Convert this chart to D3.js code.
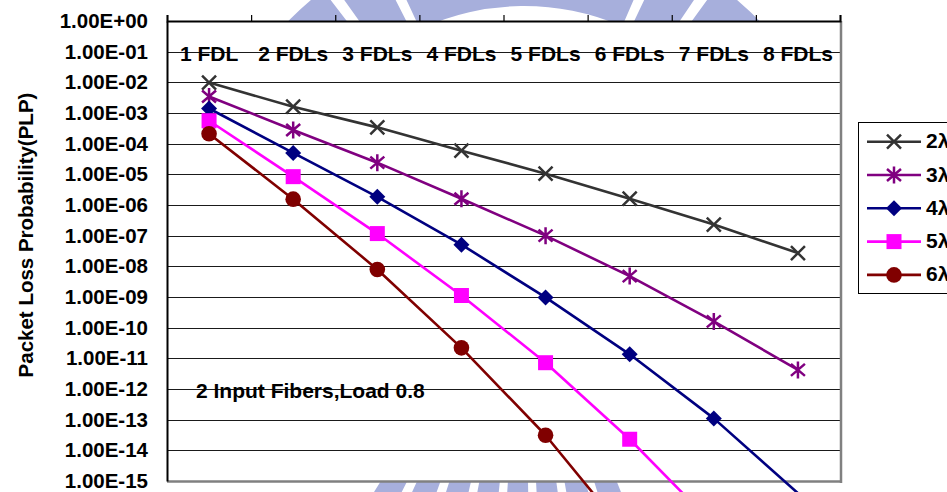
<!DOCTYPE html>
<html>
<head>
<meta charset="utf-8">
<script src="https://cdn.jsdelivr.net/npm/d3@7"></script>
<style>
  html, body { margin: 0; padding: 0; background: #fff; }
  svg { display: block; }
  text { font-family: "Liberation Sans", Arial, sans-serif; font-weight: bold; fill: #000; }
</style>
</head>
<body>
<svg id="chart" width="947" height="492"></svg>
<script>
// ---- data ----
const categories = ["1 FDL", "2 FDLs", "3 FDLs", "4 FDLs", "5 FDLs", "6 FDLs", "7 FDLs", "8 FDLs"];
const seriesNames = ["2\u03bb", "3\u03bb", "4\u03bb", "5\u03bb", "6\u03bb"];
const plp2 = [9.8e-3, 1.6e-3, 3.4e-4, 5.9e-5, 1.05e-5, 1.6e-6, 2.3e-7, 2.7e-8];
const plp3 = [3.45e-3, 2.8e-4, 2.4e-5, 1.6e-6, 1.0e-7, 4.8e-9, 1.6e-10, 4.2e-12];
const plp4 = [1.4e-3, 5.0e-5, 1.85e-6, 5.1e-8, 9.7e-10, 1.35e-11, 1.1e-13, 4.0e-16];
const plp5 = [5.6e-4, 8.4e-6, 1.17e-7, 1.12e-9, 7.2e-12, 2.3e-14, 3.7e-17, null];
const plp6 = [2.1e-4, 1.55e-6, 7.9e-9, 2.2e-11, 3.1e-14, 1.4e-17, null, null];
const yTickValues = [1e0, 1e-1, 1e-2, 1e-3, 1e-4, 1e-5, 1e-6, 1e-7, 1e-8, 1e-9, 1e-10, 1e-11, 1e-12, 1e-13, 1e-14, 1e-15];
const annotation = "2 Input Fibers,Load 0.8";
const yTitle = "Packet Loss Probability(PLP)";

const seriesValues = [plp2, plp3, plp4, plp5, plp6];
const colors = ["#333333", "#800080", "#000080", "#ff00ff", "#800000"];
const markerTypes = ["x", "asterisk", "diamond", "square", "circle"];

// ---- layout ----
const plot = { left: 167, right: 840, top: 21, bottom: 481 };
const svg = d3.select("#chart");

const x = d3.scaleBand().domain(categories).range([plot.left, plot.right]).paddingInner(0).paddingOuter(0);
const xc = c => x(c) + x.bandwidth() / 2;
const y = d3.scaleLog().domain([1, 1e-15]).range([plot.top, plot.bottom]);

// ---- watermark (light logo behind chart) ----
const wm = svg.append("g").attr("transform", "translate(524,252)").attr("fill", "#a7afdc");
const arcGen = d3.arc();
const deg = Math.PI / 180;
const topPieces = [[-50, -37.5], [-35.5, -27], [-25, 23.5], [25.5, 34], [36, 50]];
topPieces.forEach(p => wm.append("path").attr("d", arcGen({ innerRadius: 246, outerRadius: 330, startAngle: p[0] * deg, endAngle: p[1] * deg })));
d3.range(158, 208, 7).forEach(a => wm.append("path").attr("d", arcGen({ innerRadius: 226, outerRadius: 300, startAngle: a * deg, endAngle: (a + 5) * deg })));

// ---- plot area background ----
svg.append("rect").attr("x", plot.left).attr("y", plot.top)
  .attr("width", plot.right - plot.left).attr("height", plot.bottom - plot.top).attr("fill", "#fff");

// gridlines
svg.append("g").selectAll("line").data(yTickValues.slice(1, -1)).join("line")
  .attr("x1", plot.left).attr("x2", plot.right)
  .attr("y1", d => Math.round(y(d)) + 0.5).attr("y2", d => Math.round(y(d)) + 0.5)
  .attr("stroke", "#1a1a1a").attr("stroke-width", 1);

// plot border: gray right/bottom
svg.append("line").attr("x1", plot.right + 1).attr("x2", plot.right + 1).attr("y1", plot.top).attr("y2", plot.bottom + 2)
  .attr("stroke", "#808080").attr("stroke-width", 2.5);
svg.append("line").attr("x1", plot.left).attr("x2", plot.right + 2).attr("y1", plot.bottom + 0.5).attr("y2", plot.bottom + 0.5)
  .attr("stroke", "#808080").attr("stroke-width", 2.5);

// left axis with labels
const fmt = v => { const e = Math.round(Math.log10(v)); return "1.00E" + (e < 0 ? "-" : "+") + String(Math.abs(e)).padStart(2, "0"); };
const yAxis = svg.append("g").attr("transform", `translate(${plot.left},0)`)
  .call(d3.axisLeft(y).tickValues(yTickValues).tickFormat(fmt).tickSize(0).tickPadding(19));
yAxis.select(".domain").attr("stroke", "#000").attr("stroke-width", 2);
yAxis.selectAll("text").style("font-size", "20.5px").style("font-family", "'Liberation Sans', Arial, sans-serif").style("font-weight", "bold").attr("fill", "#000");

// top axis with tick marks at category boundaries
const xb = d3.scaleLinear().domain([0, categories.length]).range([plot.left, plot.right]);
const xAxis = svg.append("g").attr("transform", `translate(0,${plot.top})`)
  .call(d3.axisTop(xb).ticks(categories.length).tickValues(d3.range(0, categories.length + 1)).tickFormat("").tickSize(6).tickSizeOuter(6));
xAxis.select(".domain").attr("stroke", "#000").attr("stroke-width", 2);
xAxis.selectAll(".tick line").attr("stroke", "#000").attr("stroke-width", 1.2);

// category labels
svg.append("g").selectAll("text").data(categories).join("text")
  .attr("x", d => xc(d)).attr("y", 61).attr("text-anchor", "middle")
  .style("font-size", "21px").text(d => d);

// annotation
svg.append("text").attr("x", 196).attr("y", 398).style("font-size", "21px").text(annotation);

// y title
svg.append("text").attr("transform", "translate(33,235) rotate(-90)").attr("text-anchor", "middle")
  .style("font-size", "20.5px").text(yTitle);

// ---- markers ----
function marker(g, type, color) {
  if (type === "x") {
    g.append("path").attr("d", "M-7,-7L7,7M-7,7L7,-7").attr("stroke", color).attr("stroke-width", 2.5).attr("fill", "none");
  } else if (type === "asterisk") {
    g.append("path").attr("d", "M-7,-6L7,6M-7,6L7,-6M0,-8.5L0,8.5").attr("stroke", color).attr("stroke-width", 2.5).attr("fill", "none");
  } else if (type === "diamond") {
    g.append("path").attr("d", "M0,-8L8,0L0,8L-8,0Z").attr("fill", color);
  } else if (type === "square") {
    g.append("path").attr("d", "M-7.5,-7.5h15v15h-15Z").attr("fill", color);
  } else {
    g.append("circle").attr("r", 7.8).attr("fill", color);
  }
}

// ---- series ----
const line = d3.line().defined(d => d.v != null).x(d => xc(d.c)).y(d => y(d.v));
seriesValues.forEach((vals, i) => {
  const pts = vals.map((v, j) => ({ c: categories[j], v }));
  svg.append("path").datum(pts).attr("d", line).attr("fill", "none")
    .attr("stroke", colors[i]).attr("stroke-width", 2.6).attr("stroke-linejoin", "round");
});
seriesValues.forEach((vals, i) => {
  vals.forEach((v, j) => {
    if (v == null || v < 1e-15) return;
    const g = svg.append("g").attr("transform", `translate(${xc(categories[j])},${y(v)})`);
    marker(g, markerTypes[i], colors[i]);
  });
});

// ---- legend ----
const legend = svg.append("g");
legend.append("rect").attr("x", 858.5).attr("y", 122.5).attr("width", 120).attr("height", 171)
  .attr("fill", "#fff").attr("stroke", "#000").attr("stroke-width", 1);
seriesNames.forEach((name, i) => {
  const cy = 141.7 + i * 33.3;
  legend.append("line").attr("x1", 867).attr("x2", 921).attr("y1", cy).attr("y2", cy)
    .attr("stroke", colors[i]).attr("stroke-width", 2.6);
  const g = legend.append("g").attr("transform", `translate(894,${cy})`);
  marker(g, markerTypes[i], colors[i]);
  legend.append("text").attr("x", 926).attr("y", cy + 6.5).style("font-size", "21px").text(name);
});
</script>
</body>
</html>
